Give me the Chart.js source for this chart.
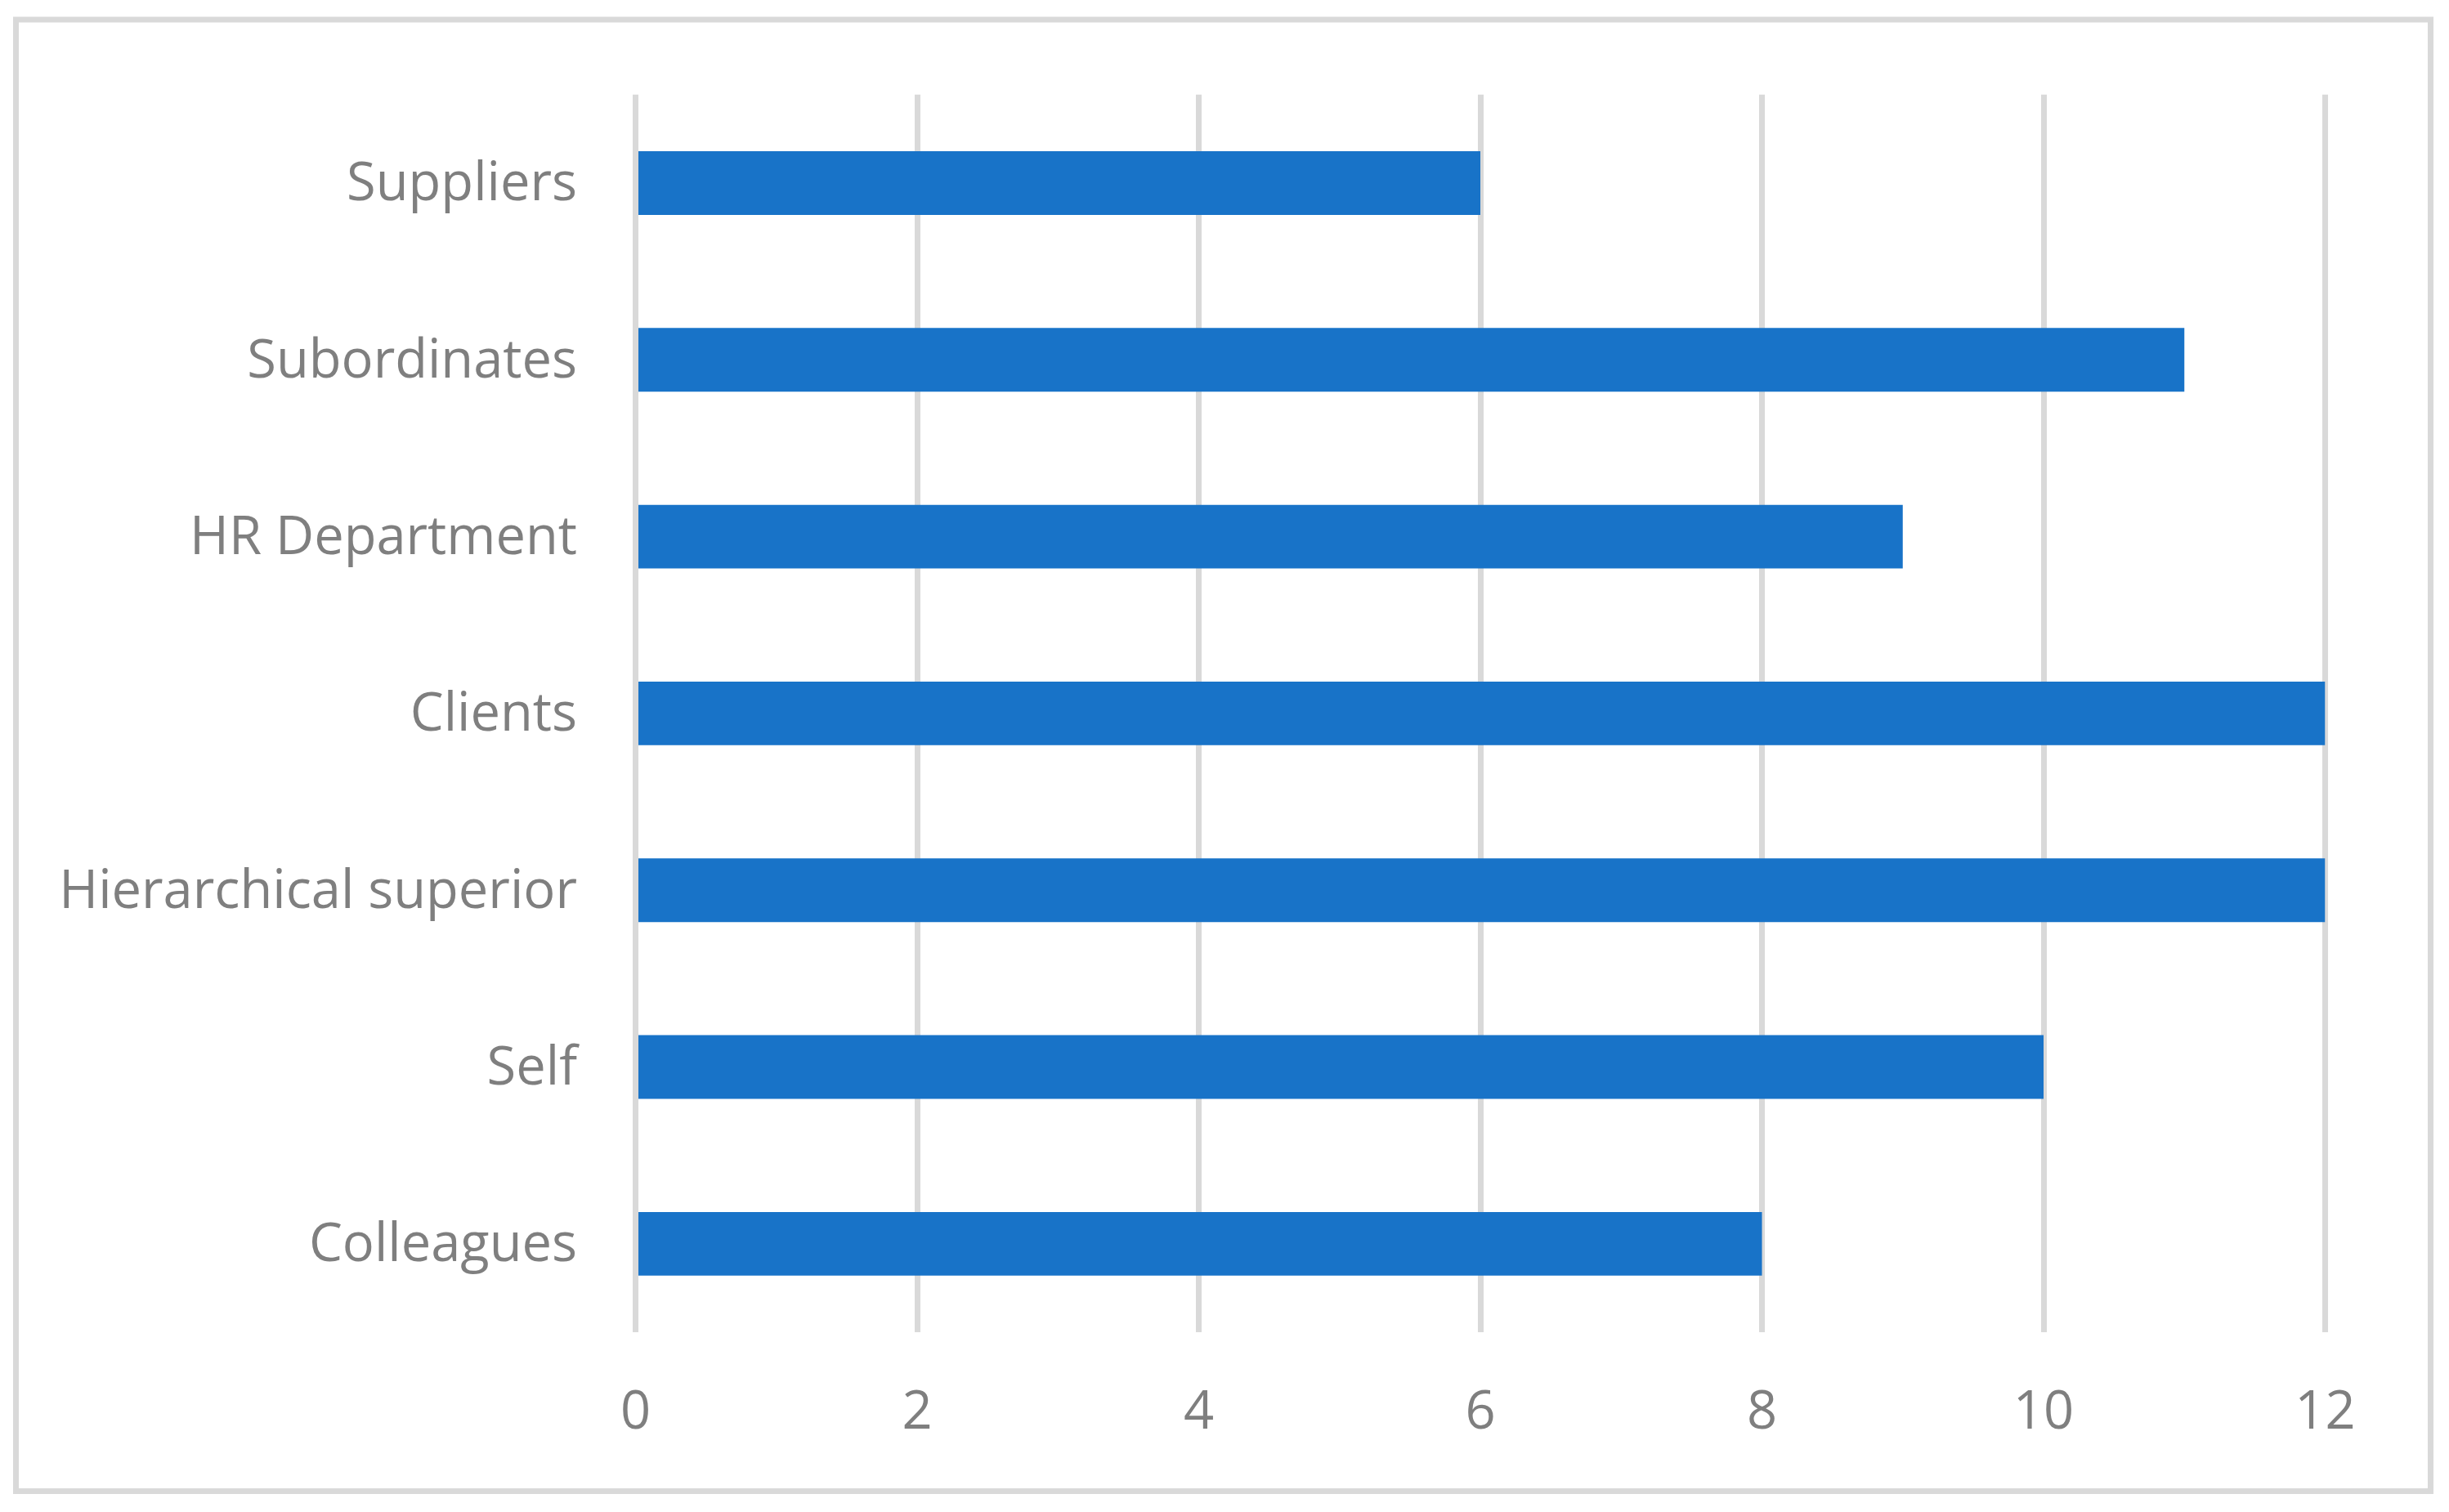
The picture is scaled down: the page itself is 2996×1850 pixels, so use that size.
<!DOCTYPE html>
<html>
<head>
<meta charset="utf-8">
<script src="https://cdn.jsdelivr.net/npm/chart.js@4/dist/chart.umd.min.js"></script>
<style>
  html, body { margin: 0; padding: 0; background: #ffffff; }
  #wrap { width: 2996px; height: 1850px; position: relative; }
</style>
</head>
<body>
<div id="wrap"><canvas id="c" width="2996" height="1850"></canvas></div>
<script>
// Categories, top to bottom
const categories = ["Suppliers", "Subordinates", "HR Department", "Clients", "Hierarchical superior", "Self", "Colleagues"];
const values = [6, 11, 9, 12, 12, 10, 8];
const xTicks = [0, 2, 4, 6, 8, 10, 12];

const FONT = "'Open Sans', 'Noto Sans', sans-serif";
const TEXT_COLOR = "#7f7f7f";
const GRID_COLOR = "#d9d9d9";
const BAR_COLOR = "#1873c8";

const frame = {
  id: 'frame',
  afterDraw(chart) {
    const ctx = chart.ctx;
    ctx.save();
    ctx.strokeStyle = GRID_COLOR;
    ctx.lineWidth = 7;
    ctx.strokeRect(19.5, 24, 2954, 1800.5);
    ctx.restore();
  },
  beforeDraw(chart) {
    const ctx = chart.ctx;
    ctx.save();
    ctx.fillStyle = '#ffffff';
    ctx.fillRect(0, 0, chart.width, chart.height);
    ctx.restore();
  }
};

new Chart(document.getElementById('c'), {
  type: 'bar',
  data: {
    labels: categories,
    datasets: [{
      data: values,
      backgroundColor: BAR_COLOR,
      borderWidth: 0,
      categoryPercentage: 0.6,
      barPercentage: 0.6
    }]
  },
  options: {
    indexAxis: 'y',
    responsive: false,
    animation: false,
    devicePixelRatio: 1,
    layout: { padding: { left: 0, right: 151.5, top: 115.8, bottom: 0 } },
    plugins: { legend: { display: false }, tooltip: { enabled: false }, title: { display: false } },
    scales: {
      x: {
        min: 0, max: 12,
        afterBuildTicks(scale) { scale.ticks = xTicks.map(v => ({ value: v })); },
        afterFit(scale) { scale.height = 220; },
        grid: { color: GRID_COLOR, lineWidth: 7, drawTicks: false },
        border: { display: false },
        ticks: { color: TEXT_COLOR, font: { family: FONT, size: 65 }, padding: 60, maxRotation: 0 }
      },
      y: {
        afterFit(scale) { scale.width = 777.5; },
        grid: { display: false, drawTicks: false },
        border: { display: false },
        ticks: { color: TEXT_COLOR, font: { family: FONT, size: 65 }, padding: 71.5, labelOffset: 3 }
      }
    }
  },
  plugins: [frame]
});
</script>
</body>
</html>
